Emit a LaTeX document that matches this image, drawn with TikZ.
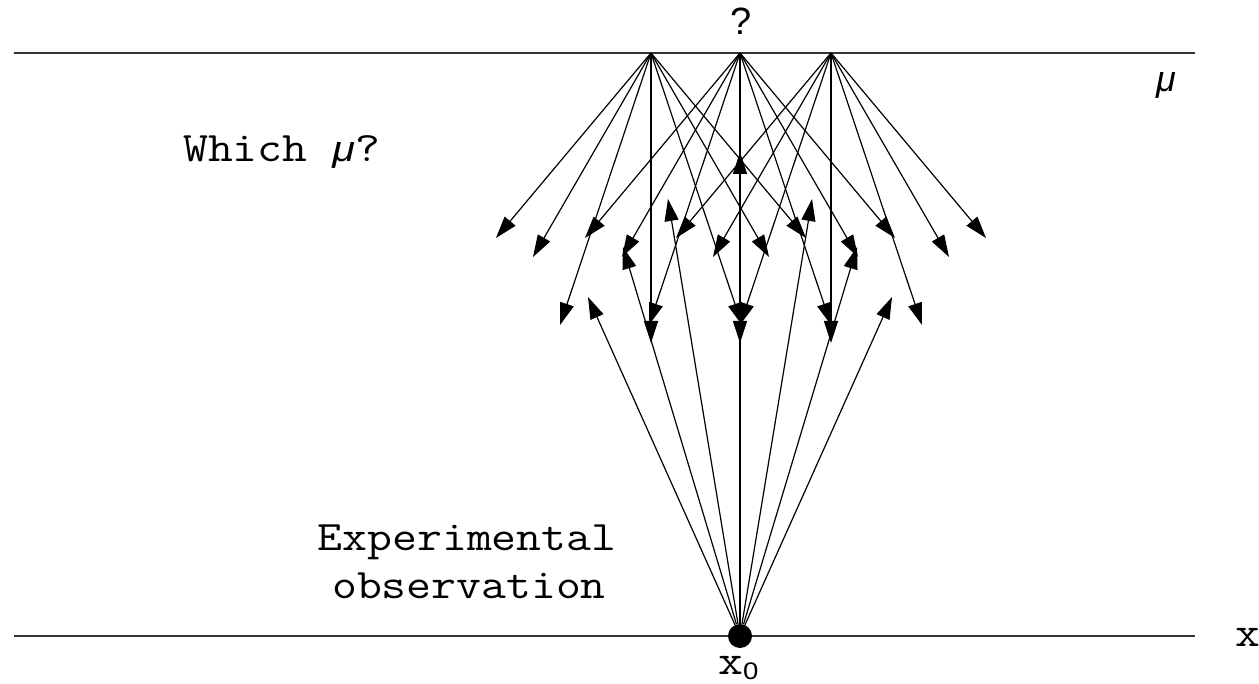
\documentclass[tikz,border=0pt]{standalone}
\usepackage{fontspec}
\newfontfamily\helv{Liberation Sans}
\usetikzlibrary{arrows.meta, calc}

\begin{document}
\begin{tikzpicture}[
    x=1pt, y=-1pt,
    axis/.style={draw=black!80, line width=1.7pt},
    arr/.style={line width=1.2pt, -{Triangle[length=22pt, width=14pt]}},
    mono/.style={font=\ttfamily\fontsize{42}{48}\selectfont, xscale=1.15, inner sep=0pt},
    sans/.style={font=\helv\fontsize{38}{40}\selectfont, inner sep=0pt},
    dot/.style={circle, fill=black, minimum size=24pt, inner sep=0pt}
]
\useasboundingbox (0,0) rectangle (1259,684);

% the two lines: mu above, x below
\coordinate (mustart) at (14,53);
\coordinate (muend) at (1195,53);
\coordinate (xstart) at (14,636);
\coordinate (xend) at (1195,636);
\draw[axis] (mustart) -- (muend);
\draw[axis] (xstart) -- (xend);

% three trial values of mu
\coordinate (mu1) at (651,53);
\coordinate (mu2) at (740,53);
\coordinate (mu3) at (831,53);

% same fan of arrows down from each mu
\foreach \m in {1,2,3}{
  \foreach \dx/\dy [count=\k] in {-155/185, -118/204, -91/272, 0/290, 91/272, 118/204, 155/185}{
    \coordinate (d\m-\k) at ($(mu\m)+(\dx,\dy)$);
    \draw[arr] (mu\m) -- (d\m-\k);
  }
}

% observed point and its fan upwards
\node[dot] (x0) at (740,636) {};
\foreach \dx/\dy [count=\k] in {-152/-339, -117/-389, -72/-437, 0/-484, 72/-437, 117/-389, 152/-339}{
  \coordinate (u\k) at ($(x0)+(\dx,\dy)$);
  \draw[arr] (x0) -- (u\k);
}

% labels
\node[sans, anchor=base] (qmark) at (741,35) {?};
\node[font=\helv\itshape\fontsize{36}{40}\selectfont, inner sep=0pt, anchor=base] (mulbl) at (1166,92) {μ};
\node[mono, anchor=base west] (which) at (183,162) {Which {\helv\itshape\fontsize{36}{40}\selectfont μ}?};
\node[mono, anchor=base] (exper) at (467,550) {Experimental};
\node[mono, anchor=base] (observ) at (469,598) {observation};
\node[mono, anchor=base west] (xlbl) at (1235,646) {x};
\node[mono, anchor=base west] (x0lbl) at (718,674) {x\raisebox{-5pt}{\helv\fontsize{24}{24}\selectfont 0}};

\end{tikzpicture}
\end{document}
